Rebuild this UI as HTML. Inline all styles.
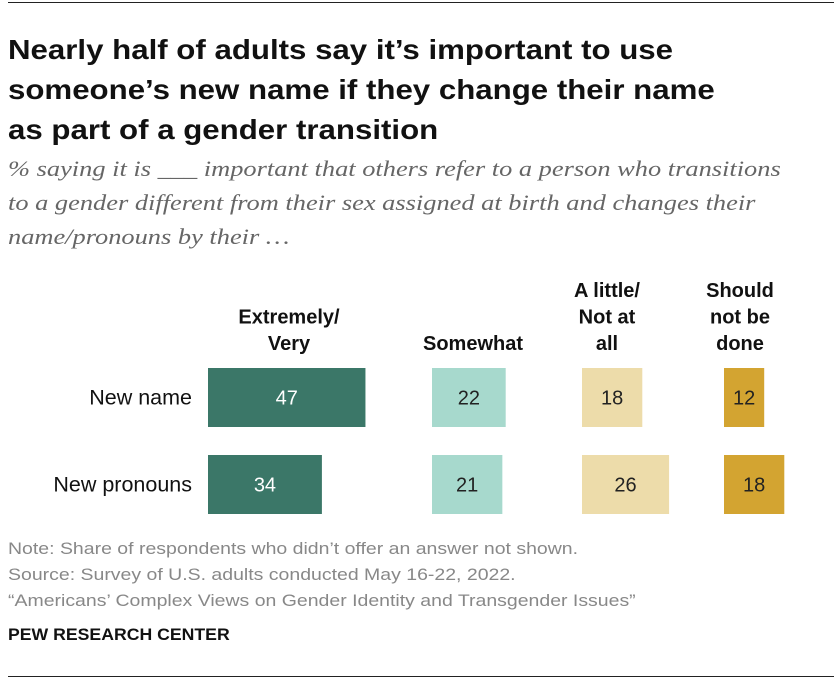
<!DOCTYPE html>
<html><head><meta charset="utf-8"><style>
body{margin:0;width:840px;height:690px;background:#fff;font-family:"Liberation Sans",sans-serif;position:relative;overflow:hidden}
.t{position:absolute;white-space:nowrap;transform-origin:0 0}
</style></head><body>
<div style="position:absolute;left:8px;top:2px;width:826px;height:1px;background:#222"></div>
<div class="t" style="left:8px;top:30px;font-size:28px;font-weight:bold;line-height:40px;color:#111;transform:scaleX(1.115)">Nearly half of adults say it’s important to use<br>someone’s new name if they change their name<br>as part of a gender transition</div>
<div class="t" style="left:8px;top:152px;font-family:'Liberation Serif',serif;font-style:italic;font-size:22px;line-height:34px;color:#666;transform:scaleX(1.2)">% saying it is ___ important that others refer to a person who transitions<br>to a gender different from their sex assigned at birth and changes their<br>name/pronouns by their …</div>
<svg id="chart" width="840" height="690" style="position:absolute;left:0;top:0"></svg>
<div class="t" style="left:8px;top:536px;font-size:16.5px;line-height:26px;color:#888;transform:scaleX(1.18)">Note: Share of respondents who didn’t offer an answer not shown.<br>Source: Survey of U.S. adults conducted May 16-22, 2022.<br>“Americans’ Complex Views on Gender Identity and Transgender Issues”</div>
<div class="t" style="left:8px;top:626px;font-size:16.5px;font-weight:bold;color:#111;transform:scaleX(1.07)">PEW RESEARCH CENTER</div>
<div style="position:absolute;left:8px;top:676px;width:826px;height:1px;background:#222"></div>
<script>
const categories=["New name","New pronouns"];
const seriesNames=[["Extremely/","Very"],["Somewhat"],["A little/","Not at","all"],["Should","not be","done"]];
const extremely=[47,34];
const somewhat=[22,21];
const little=[18,26];
const shouldNot=[12,18];
const series=[extremely,somewhat,little,shouldNot];
const colors=["#3b7768","#a7d9cd","#eddcaa","#d3a431"];
const textColors=["#fff","#222","#222","#222"];
const colStarts=[208,432,582,724];
const colCenters=[289,473,607,740];
const scale=3.35, rowTop=[368,455], barH=59;
const x=v=>v*scale;
const svg=document.getElementById('chart');
const NS="http://www.w3.org/2000/svg";
function mk(tag,attrs,txt){const e=document.createElementNS(NS,tag);for(const k in attrs)e.setAttribute(k,attrs[k]);if(txt!=null)e.textContent=txt;svg.appendChild(e);return e;}
categories.forEach((c,i)=>{
  const t=mk('text',{x:192,y:rowTop[i]+barH/2+7,'text-anchor':'end','font-size':21.5,fill:'#111','font-family':'Liberation Sans'},c);
  
  
});
seriesNames.forEach((lines,j)=>{
  const bottom=350;
  lines.forEach((ln,k)=>{
    const t=mk('text',{x:colCenters[j],y:bottom-(lines.length-1-k)*26.5,'text-anchor':'middle','font-size':20,'font-weight':'bold',fill:'#111','font-family':'Liberation Sans'},ln);
    
    
  });
});
series.forEach((vals,j)=>{
  vals.forEach((v,i)=>{
    const r=mk('rect',{x:colStarts[j],y:rowTop[i],width:x(v),height:barH,fill:colors[j]});
    
    
    const t=mk('text',{x:colStarts[j]+x(v)/2,y:rowTop[i]+barH/2+7,'text-anchor':'middle','font-size':20,fill:textColors[j],'font-family':'Liberation Sans'},v);
    
    
  });
});
</script>
</body></html>
